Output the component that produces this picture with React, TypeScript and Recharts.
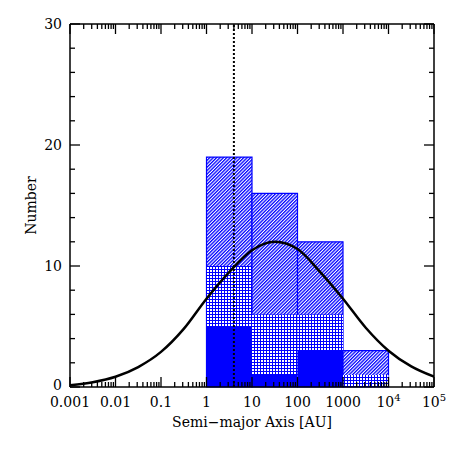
import { ComposedChart, Line, XAxis, YAxis, ReferenceArea, ReferenceLine, Label } from 'recharts';

// histogram bins (AU), stacked layers drawn back to front
const binEdges = [1, 10, 100, 1000, 10000];
const allCounts = [19, 16, 12, 3];
const crossCounts = [10, 6, 6, 1];
const solidCounts = [5, 1, 3, 0];

// log-normal fit, every half decade
const curveAU = [0.001, 0.00316, 0.01, 0.0316, 0.1, 0.316, 1, 3.16, 10, 31.6, 100, 316, 1000, 3162, 10000, 31623, 100000];
const curveN = [0.15, 0.4, 0.85, 1.65, 2.9, 4.8, 7.3, 9.5, 11.3, 12.0, 11.4, 9.5, 7.3, 4.9, 3.0, 1.7, 0.85];

const markerAU = 4;

const decades = [0.001, 0.01, 0.1, 1, 10, 100, 1000, 10000, 100000];
const decadeLabels = ['0.001', '0.01', '0.1', '1', '10', '100', '1000', '10^4', '10^5'];
const yTicks = [0, 2, 4, 6, 8, 10, 12, 14, 16, 18, 20, 22, 24, 26, 28, 30];
const yMajor = [0, 10, 20, 30];

const curveData = curveAU.map((au, i) => ({ au, n: curveN[i] }));

const xTicks: number[] = [];
decades.slice(0, -1).forEach((d) => {
  for (let k = 1; k <= 9; k++) xTicks.push(k * d);
});
xTicks.push(decades[decades.length - 1]);

const BLUE = '#0000ff';
const FONT = '"DejaVu Serif", serif';

function decadeIndex(v: number) {
  const lg = Math.log10(v);
  return Math.abs(lg - Math.round(lg)) < 1e-6 ? Math.round(lg) + 3 : -1;
}

function XTick(props: any) {
  const { x, y, payload, top } = props;
  const idx = decadeIndex(payload.value);
  const len = idx >= 0 ? 10 : 5;
  if (top) {
    return <line x1={x} x2={x} y1={y} y2={y + len} stroke="#000" strokeWidth={1.3} />;
  }
  const label = idx >= 0 ? decadeLabels[idx] : null;
  const [base, sup] = label ? label.split('^') : [null, null];
  return (
    <g>
      <line x1={x} x2={x} y1={y} y2={y - len} stroke="#000" strokeWidth={1.3} />
      {base && (
        <text x={x} y={y + 20} textAnchor="middle" fontSize={14} fontFamily={FONT} fill="#000">
          {base}
          {sup && (
            <tspan dy={-6} fontSize={10}>
              {sup}
            </tspan>
          )}
        </text>
      )}
    </g>
  );
}

function YTick(props: any) {
  const { x, y, payload, right } = props;
  const major = yMajor.includes(payload.value);
  const len = major ? 10 : 5;
  if (right) {
    return <line x1={x} x2={x - len} y1={y} y2={y} stroke="#000" strokeWidth={1.3} />;
  }
  return (
    <g>
      <line x1={x} x2={x + len} y1={y} y2={y} stroke="#000" strokeWidth={1.3} />
      {major && (
        <text x={x - 8} y={y + (payload.value === 0 ? 3 : 5)} textAnchor="end" fontSize={14} fontFamily={FONT} fill="#000">
          {payload.value}
        </text>
      )}
    </g>
  );
}

export default function App() {
  const axisLine = { stroke: '#000', strokeWidth: 1.5 };
  return (
    <div style={{ position: 'absolute', left: 0, top: 0, background: '#fff' }}>
      <ComposedChart
        width={458}
        height={458}
        data={curveData}
        margin={{ top: 23, right: 23, left: 10, bottom: 21 }}
      >
        <defs>
          {/* "/" hatch: vertical stripes turned 45 degrees */}
          <pattern id="diag" patternUnits="userSpaceOnUse" width={2.4} height={10} patternTransform="rotate(45)">
            <rect width={2.4} height={10} fill="#fff" />
            <rect width={1.3} height={10} fill={BLUE} />
          </pattern>
          <pattern id="cross" patternUnits="userSpaceOnUse" width={3} height={3}>
            <rect width={3} height={3} fill={BLUE} />
            <rect x={0} y={0} width={2} height={2} fill="#fff" />
          </pattern>
        </defs>

        <XAxis
          dataKey="au"
          type="number"
          scale="log"
          domain={[0.001, 100000]}
          allowDataOverflow
          ticks={xTicks}
          interval={0}
          height={50}
          tickSize={0}
          tickMargin={0}
          tickLine={false}
          axisLine={axisLine}
          tick={<XTick />}
        >
          <Label
            value="Semi−major Axis [AU]"
            position="insideBottom"
            offset={10}
            style={{ fontSize: 14, fontFamily: FONT, fill: '#000' }}
          />
        </XAxis>
        <XAxis
          xAxisId="top"
          dataKey="au"
          type="number"
          scale="log"
          orientation="top"
          domain={[0.001, 100000]}
          allowDataOverflow
          ticks={xTicks}
          interval={0}
          height={1}
          tickSize={0}
          tickMargin={0}
          tickLine={false}
          axisLine={axisLine}
          tick={<XTick top />}
        />
        <YAxis
          type="number"
          domain={[0, 30]}
          allowDataOverflow
          ticks={yTicks}
          interval={0}
          width={60}
          tickSize={0}
          tickMargin={0}
          tickLine={false}
          axisLine={axisLine}
          tick={<YTick />}
        >
          <Label
            value="Number"
            angle={-90}
            position="insideLeft"
            offset={21}
            style={{ fontSize: 14, fontFamily: FONT, fill: '#000', textAnchor: 'middle' }}
          />
        </YAxis>
        <YAxis
          yAxisId="right"
          type="number"
          orientation="right"
          domain={[0, 30]}
          allowDataOverflow
          ticks={yTicks}
          interval={0}
          width={1}
          tickSize={0}
          tickMargin={0}
          tickLine={false}
          axisLine={axisLine}
          tick={<YTick right />}
        />

        {allCounts.map((c, i) => (
          <ReferenceArea
            key={`all-${i}`}
            x1={binEdges[i]}
            x2={binEdges[i + 1]}
            y1={0}
            y2={c}
            fill="url(#diag)"
            fillOpacity={1}
            stroke={BLUE}
            strokeWidth={1.2}
          />
        ))}
        {crossCounts.map((c, i) => (
          <ReferenceArea
            key={`cross-${i}`}
            x1={binEdges[i]}
            x2={binEdges[i + 1]}
            y1={0}
            y2={c}
            fill="url(#cross)"
            fillOpacity={1}
            stroke="none"
          />
        ))}
        {solidCounts.map((c, i) => (
          <ReferenceArea
            key={`solid-${i}`}
            x1={binEdges[i]}
            x2={binEdges[i + 1]}
            y1={0}
            y2={c}
            fill={BLUE}
            fillOpacity={1}
            stroke="none"
          />
        ))}

        <ReferenceLine x={markerAU} stroke="#000" strokeWidth={2} strokeDasharray="2 2" />

        <Line
          dataKey="n"
          type="monotone"
          stroke="#000"
          strokeWidth={2.5}
          dot={false}
          isAnimationActive={false}
        />
      </ComposedChart>
    </div>
  );
}
